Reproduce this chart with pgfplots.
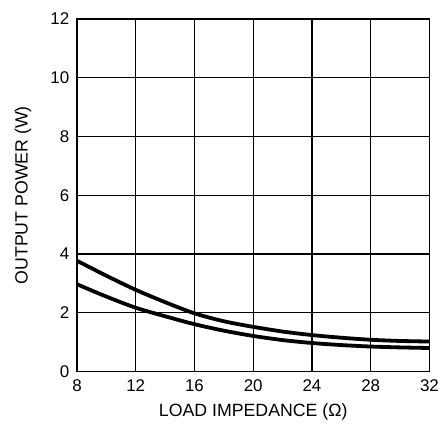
\documentclass[border=0pt]{standalone}
\usepackage{pgfplots}
\pgfplotsset{compat=1.18}
\usepackage{fontspec}
\setmainfont{Liberation Sans}
\newcommand{\tl}[1]{\mbox{\fontsize{17}{20}\selectfont #1}}
\begin{document}
\begin{tikzpicture}
\useasboundingbox (-77bp,-56.5bp) rectangle (363bp,371.5bp);
\begin{axis}[
  at={(0,0)}, anchor=south west,
  scale only axis, width=352.5bp, height=352.5bp,
  xmin=8, xmax=32, ymin=0, ymax=12,
  xtick={8,12,16,20,24,28,32}, ytick={0,2,4,6,8,10,12},
  xticklabels={\tl{8},\tl{12},\tl{16},\tl{20},\tl{24},\tl{28},\tl{32}},
  yticklabels={\tl{0},\tl{2},\tl{4},\tl{6},\tl{8},\tl{10},\tl{12}},
  grid=major,
  major grid style={black, line width=1.1bp},
  axis line style={black, line width=1.6bp},
  major tick length=0pt,
  xticklabel style={inner sep=0pt, yshift=-7.5bp},
  yticklabel style={inner sep=0pt, xshift=-7.5bp},
  xlabel={LOAD IMPEDANCE (Ω)},
  ylabel={OUTPUT POWER (W)},
  xlabel style={font=\fontsize{17.8}{20}\selectfont, at={(axis description cs:0.5,-0.128)}, anchor=base},
  ylabel style={font=\fontsize{17.8}{20}\selectfont, at={(axis description cs:-0.14,0.5)}, anchor=base, rotate=0},
]
\addplot[black, line width=3.8bp, smooth] coordinates {
 (8,3.77) (10,3.26) (12,2.78) (14,2.36) (16,1.98) (18,1.71) (20,1.52)
 (22,1.36) (24,1.24) (26,1.15) (28,1.08) (30,1.04) (32,1.02)};
\addplot[black, line width=3.8bp, smooth] coordinates {
 (8,2.97) (10,2.55) (12,2.17) (14,1.88) (16,1.61) (18,1.39) (20,1.21)
 (22,1.07) (24,0.97) (26,0.90) (28,0.85) (30,0.82) (32,0.80)};
\end{axis}
\end{tikzpicture}
\end{document}
